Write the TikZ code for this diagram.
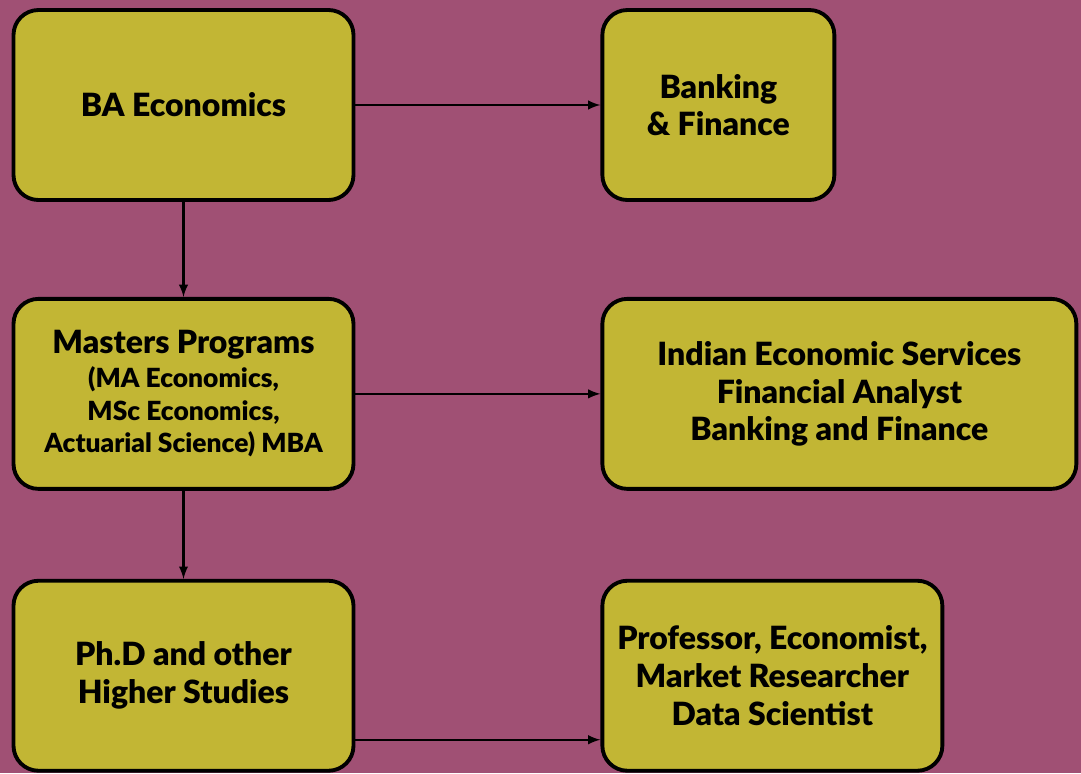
\documentclass[tikz,border=0pt]{standalone}
\usepackage{fontspec}
\setmainfont{Lato}[BoldFont={Lato Black}]
\usetikzlibrary{positioning,shapes,arrows}
\definecolor{bgplum}{RGB}{160,80,116}
\definecolor{boxolive}{RGB}{194,182,52}
\tikzstyle{stage} = [draw, fill=boxolive, rectangle, line width=2.2pt, rounded corners=5mm, minimum height=3.8cm, minimum width=6.8cm, align=center, font=\bfseries\fontsize{18.2}{21.5}\selectfont]
\tikzstyle{link} = [->, line width=1.4pt]
\newcommand{\subtxt}{\fontsize{15}{17}\selectfont}

\begin{document}
\begin{tikzpicture}[node distance=4.9cm,>=latex]
		\fill [bgplum] (-3.67,-13.36) rectangle (17.95,2.1);
		\useasboundingbox (-3.67,-13.36) rectangle (17.95,2.1);
		\node (ba) [stage] {BA Economics};
		\node (bank) [stage, minimum width=4.64cm, right=of ba] {Banking\\\& Finance};
		\node (ms) [stage, below=1.9cm of ba] {Masters Programs\\[-2pt]{\subtxt(MA Economics,}\\[-3pt]{\subtxt MSc Economics,}\\[-3pt]{\subtxt Actuarial Science) MBA}};
		\node (ies) [stage, minimum width=9.48cm, right=of ms] {Indian Economic Services\\Financial Analyst\\Banking and Finance};
		\node (phd) [stage, below=1.76cm of ms] {Ph.D and other\\Higher Studies};
		\node (prof) [stage, right=of phd] {Professor, Economist,\\Market Researcher\\Data Scientist};
		
		\draw [link] (ba) -- (bank);
		\draw [link] (ba) -- (ms);
		
		\draw [link] (ms) -- (ies);
		\draw [link] (ms) -- (phd);
		
		\draw [link] ([yshift=-1.28cm]phd.east) -- ([yshift=-1.28cm]prof.west);
	\end{tikzpicture}
\end{document}
